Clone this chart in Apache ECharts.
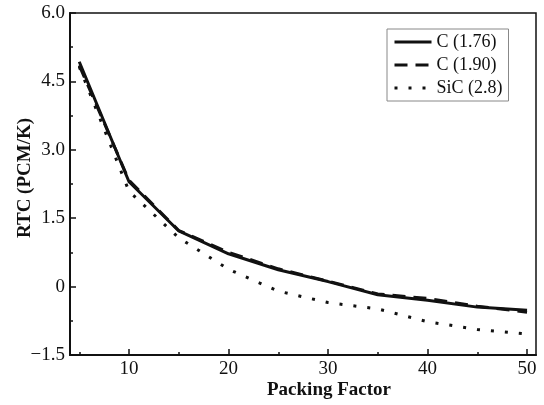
<!DOCTYPE html>
<html>
<head>
<meta charset="utf-8">
<script src="https://cdn.jsdelivr.net/npm/echarts@6/dist/echarts.min.js"></script>
<style>
  html, body { margin: 0; padding: 0; background: #fff; }
  #chart { width: 544px; height: 405px; }
</style>
</head>
<body>
<div id="chart"></div>
<script>
// Packing factor on the x axis, RTC (pcm/K) for each fuel variant
const packingFactor = [5, 10, 15, 20, 25, 30, 35, 40, 45, 50];
const rtcC176  = [4.93, 2.30, 1.22, 0.72, 0.37, 0.11, -0.18, -0.30, -0.45, -0.52];
const rtcC190  = [4.85, 2.33, 1.23, 0.75, 0.39, 0.12, -0.16, -0.26, -0.43, -0.56];
const rtcSiC28 = [4.82, 2.09, 1.07, 0.38, -0.10, -0.35, -0.49, -0.77, -0.94, -1.04];
const seriesNames = ['C (1.76)', 'C (1.90)', 'SiC (2.8)'];

// Axis ticks
const xMajorTicks = [10, 20, 30, 40, 50];
const xMinorTicks = [5, 15, 25, 35, 45];
const yMin = -1.5, yMax = 6.0, yStep = 1.5;

const serif = 'Liberation Serif';
const ink = '#111';

const toPairs = (ys) => packingFactor.map((x, i) => [x, ys[i]]);

const chart = echarts.init(document.getElementById('chart'), null, { renderer: 'canvas' });

chart.setOption({
  animation: false,
  backgroundColor: '#fff',
  grid: {
    left: 70, right: 8, top: 13, bottom: 48,
    show: true, borderColor: ink, borderWidth: 1.5, backgroundColor: 'transparent'
  },
  legend: {
    data: seriesNames,
    orient: 'vertical',
    left: 387, top: 29,
    padding: [4, 6, 4, 6],
    itemGap: 5,
    itemWidth: 37, itemHeight: 14,
    borderColor: '#888', borderWidth: 1,
    // line sample only, no marker on it
    itemStyle: { color: 'transparent', borderColor: 'transparent', borderWidth: 0 },
    lineStyle: { width: 3 },
    textStyle: { fontFamily: serif, fontSize: 18, color: ink }
  },
  xAxis: [
    {
      type: 'value', min: 4.07, max: 50.9, position: 'bottom',
      name: 'Packing Factor', nameLocation: 'middle', nameGap: 26, nameMoveOverlap: false,
      nameTextStyle: { fontFamily: serif, fontSize: 19, fontWeight: 'bold', color: ink, padding: [0, 0, 0, 52] },
      axisLine: { show: true, onZero: false, lineStyle: { color: ink, width: 2 } },
      axisTick: { show: true, inside: true, length: 6, customValues: xMajorTicks, lineStyle: { color: ink, width: 1.5 } },
      axisLabel: { show: true, customValues: xMajorTicks, margin: 5, fontFamily: serif, fontSize: 19, color: ink },
      splitLine: { show: false }
    },
    {
      type: 'value', min: 4.07, max: 50.9, position: 'bottom',
      axisLine: { show: false, onZero: false },
      axisTick: { show: true, inside: true, length: 3, customValues: xMinorTicks, lineStyle: { color: ink, width: 1.5 } },
      axisLabel: { show: false },
      splitLine: { show: false }
    }
  ],
  yAxis: {
    type: 'value', min: yMin, max: yMax, interval: yStep,
    name: 'RTC (PCM/K)', nameLocation: 'middle', nameGap: 35, nameMoveOverlap: false,
    nameTextStyle: { fontFamily: serif, fontSize: 19, fontWeight: 'bold', color: ink, padding: [0, 0, 0, 12] },
    axisLine: { show: true, onZero: false, lineStyle: { color: ink, width: 2 } },
    axisTick: { show: true, inside: true, length: 6, lineStyle: { color: ink, width: 1.5 } },
    minorTick: { show: true, splitNumber: 2, length: 3, lineStyle: { color: ink, width: 1.5 } },
    axisLabel: {
      margin: 5, fontFamily: serif, fontSize: 19, color: ink,
      formatter: (v) => {
        if (Math.abs(v) < 1e-9) return '0';
        const s = Math.abs(v).toFixed(1);
        return v < 0 ? '\u2212' + s : s;
      }
    },
    splitLine: { show: false }
  },
  series: [
    {
      name: seriesNames[0], type: 'line', data: toPairs(rtcC176),
      symbol: 'none', lineStyle: { color: ink, width: 3, type: 'solid' }, itemStyle: { color: ink }
    },
    {
      name: seriesNames[1], type: 'line', data: toPairs(rtcC190),
      symbol: 'none', lineStyle: { color: ink, width: 3, type: [13, 8] }, itemStyle: { color: ink }
    },
    {
      name: seriesNames[2], type: 'line', data: toPairs(rtcSiC28),
      symbol: 'none', lineStyle: { color: ink, width: 3, type: [3, 11], cap: 'butt' }, itemStyle: { color: ink }
    }
  ]
});
</script>
</body>
</html>
